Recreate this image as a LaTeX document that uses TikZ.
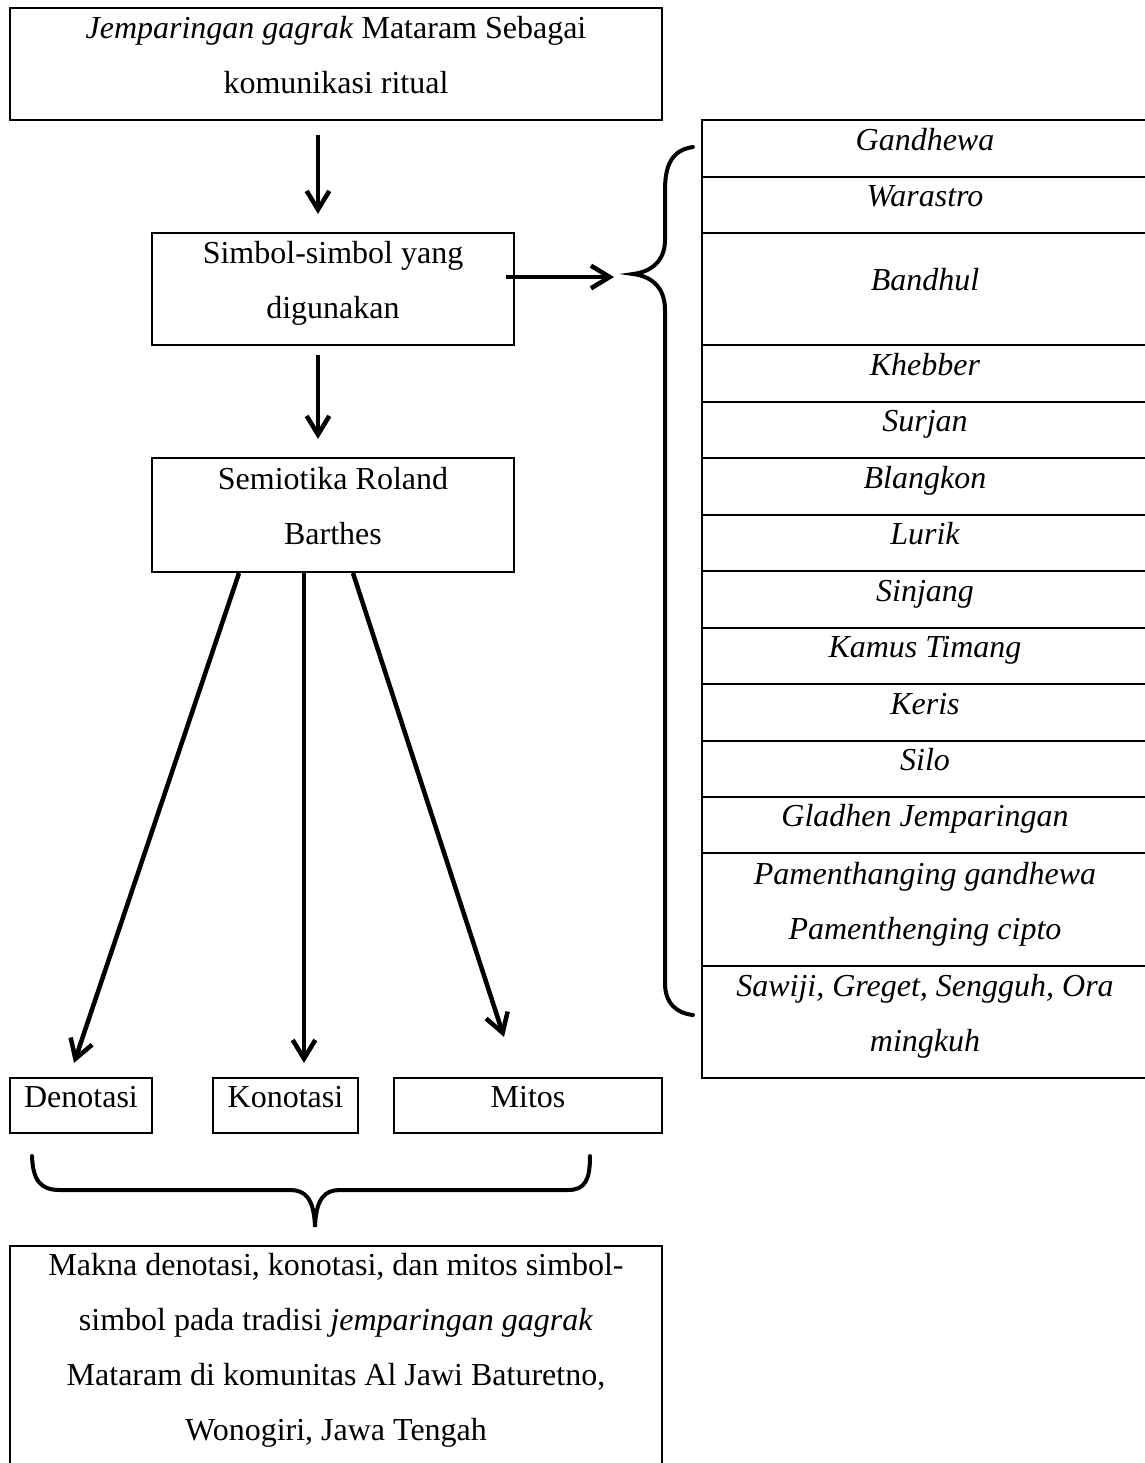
\documentclass[tikz,border=0pt]{standalone}
\usepackage{fontspec}
\setmainfont{Liberation Serif}
\usetikzlibrary{arrows.meta,calc}
\newcommand\mlines[1]{\begin{tabular}[t]{@{}c@{}}#1\end{tabular}}
\tikzset{
  sz/.style 2 args={minimum width={#1*0.375pt}, minimum height={#2*0.375pt}},
  box/.style={draw, line width=0.8pt, inner sep=0pt, font=\fontsize{12pt}{20.625pt}\selectfont},
  one/.style={text height=8pt, text depth=6.875pt},
  two/.style={text height=8pt, text depth=27.125pt},
  four/.style={text height=8pt, text depth=68.75pt},
  cell/.style={box, sz={446}{#1}, font=\fontsize{12pt}{20.625pt}\selectfont\itshape},
  arr/.style={line width=1.7pt, -{Straight Barb[length=7pt, width=8.5pt, line width=1.7pt]}},
  brace/.style={line width=1.5pt, line cap=round}
}
\begin{document}
\begin{tikzpicture}[x=0.375pt, y=-0.375pt]
\useasboundingbox (0,0) rectangle (1145,1463);
\clip (0,0) rectangle (1145,1463);
\fill[white] (0,0) rectangle (1145,1463);

% left column boxes
\node[box, two, sz={652}{112}] (top) at (336,64)
  {\mlines{\textit{Jemparingan gagrak} Mataram Sebagai\\komunikasi ritual}};
\node[box, two, sz={362}{112}] (simbol) at (333,289)
  {\mlines{Simbol-simbol yang\\digunakan}};
\node[box, two, sz={362}{114}] (semio) at (333,515)
  {\mlines{Semiotika Roland\\Barthes}};
\node[box, one, sz={142}{55}] (deno) at (81,1105.5) {Denotasi};
\node[box, one, sz={145}{55}] (kono) at (285.5,1105.5) {Konotasi};
\node[box, one, sz={268}{55}] (mitos) at (528,1105.5) {Mitos};
\node[box, four, sz={652}{220}] (makna) at (336,1356)
  {\mlines{Makna denotasi, konotasi, dan mitos simbol-\\simbol pada tradisi \textit{jemparingan gagrak}\\Mataram di komunitas Al Jawi Baturetno,\\Wonogiri, Jawa Tengah}};

% table of symbols
\node[cell={57}, one] (c1) at (925,148.5) {Gandhewa};
\node[cell={56}, one] (c2) at (925,205) {Warastro};
\node[cell={112}, one] (c3) at (925,289) {Bandhul};
\node[cell={57}, one] (c4) at (925,373.5) {Khebber};
\node[cell={56}, one] (c5) at (925,430) {Surjan};
\node[cell={57}, one] (c6) at (925,486.5) {Blangkon};
\node[cell={56}, one] (c7) at (925,543) {Lurik};
\node[cell={57}, one] (c8) at (925,599.5) {Sinjang};
\node[cell={56}, one] (c9) at (925,656) {Kamus Timang};
\node[cell={57}, one] (c10) at (925,712.5) {Keris};
\node[cell={56}, one] (c11) at (925,769) {Silo};
\node[cell={56}, one] (c12) at (925,825) {Gladhen Jemparingan};
\node[cell={113}, two] (c13) at (925,909.5) {\mlines{Pamenthanging gandhewa\\Pamenthenging cipto}};
\node[cell={112}, two] (c14) at (925,1022) {\mlines{Sawiji, Greget, Sengguh, Ora\\mingkuh}};

% right brace
\coordinate (btip) at (633,274);
\draw[brace] ($(c1.west)+(-8,-1.5)$) .. controls (672,150) and (665,165) .. (665,190)
  -- (665,240) .. controls (665,262) and (650,272) .. (btip)
  .. controls (650,276) and (665,286) .. (665,310)
  -- (665,983) .. controls (665,1003) and (676,1013) .. ($(c14.west)+(-8,-7)$);

% bottom brace
\coordinate (bbtip) at (315,1227);
\draw[brace] ($(deno.south)+(-49,22)$) .. controls (33,1180) and (40,1190) .. (60,1190)
  -- (290,1190) .. controls (305,1190) and (314,1198) .. (bbtip)
  .. controls (316,1198) and (325,1190) .. (340,1190)
  -- (568,1190) .. controls (585,1190) and (590,1180) .. ($(mitos.south)+(62,22)$);

% connectors
\draw[arr] ($(top.south)+(-18,14)$) -- ($(simbol.north)+(-15,-18)$);
\draw[arr] ($(simbol.south)+(-15,9)$) -- ($(semio.north)+(-15,-18)$);
\draw[arr] ($(simbol.east)+(-9,-12)$) -- ($(btip)+(-19,3)$);
\draw[arr] ($(semio.south)+(-94,0)$) -- ($(deno.north)+(-7,-14)$);
\draw[arr] ($(semio.south)+(-29,0)$) -- ($(kono.north)+(18.5,-14)$);
\draw[arr] ($(semio.south)+(20,0)$) -- ($(mitos.north)+(-24,-40)$);
\end{tikzpicture}
\end{document}
